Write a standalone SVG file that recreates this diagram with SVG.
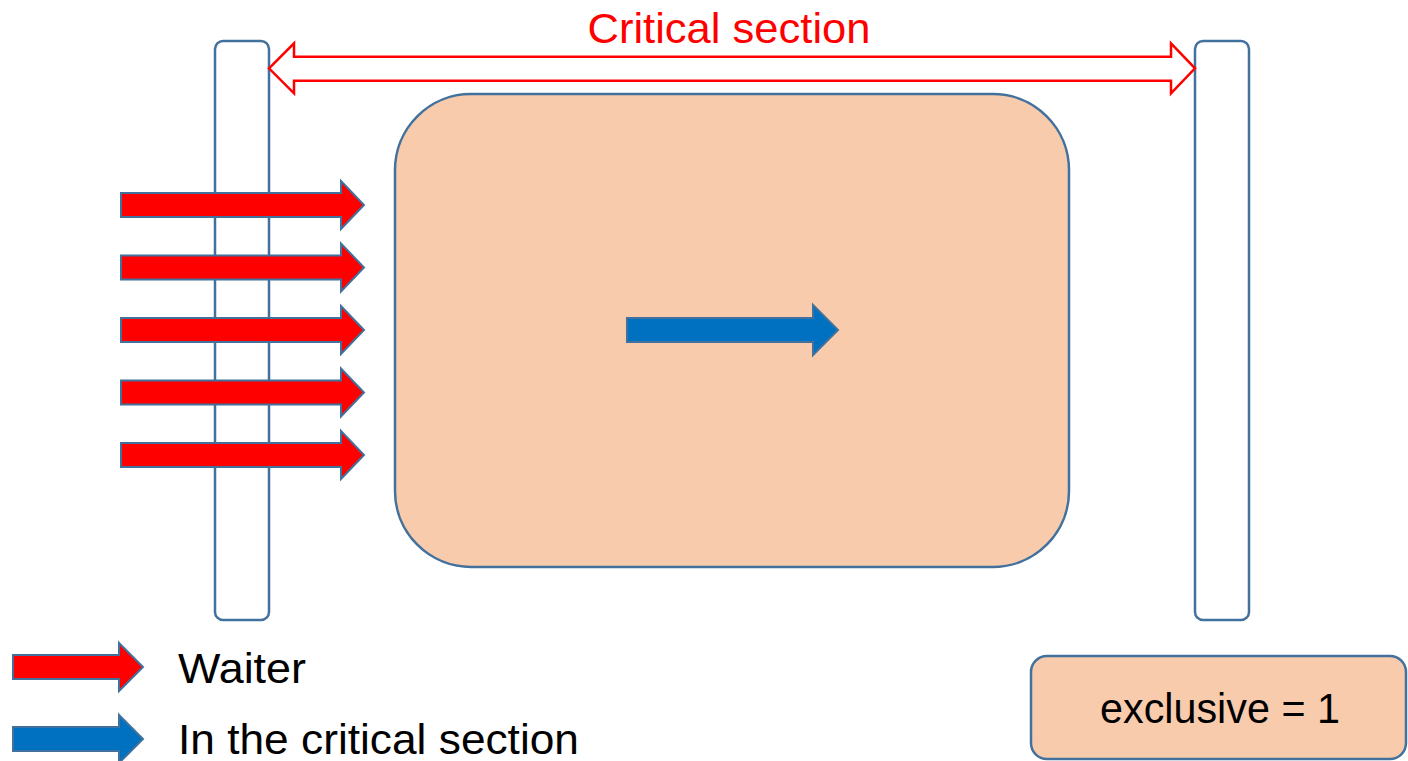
<svg xmlns="http://www.w3.org/2000/svg" width="1408" height="761" viewBox="0 0 1408 761">
<style>
.bar{fill:#fff;stroke:#41719C;stroke-width:2.5}
.box{fill:#F8CBAD;stroke:#41719C;stroke-width:2.5}
.wait{fill:#FF0000;stroke:#41719C;stroke-width:2}
.run{fill:#0070C0;stroke:#41719C;stroke-width:2}
.dbl{fill:#fff;stroke:#FF0000;stroke-width:2.5;stroke-linejoin:miter}
.t{font-family:"Liberation Sans",Arial,sans-serif;font-size:42px;fill:#000}
.red{fill:#FF0000}
</style>
<rect width="1408" height="761" fill="#fff"/>
<g id="left-bar"><rect class="bar" x="215" y="41" width="54" height="579" rx="8"/></g>
<g id="right-bar"><rect class="bar" x="1195" y="41" width="54" height="579" rx="8"/></g>
<g id="critical-box"><rect class="box" x="395" y="94" width="674" height="473" rx="76"/></g>
<g id="connectors">
<path id="span-arrow" class="dbl" d="M269,68.3 L294,43.3 V56.7 H1171 V43.3 L1195,68.3 L1171,93.3 V80.7 H294 V93.3 Z"/>
<path class="wait" d="M121,193 H341 V181 L364,205 L341,229 V217 H121 Z"/>
<path class="wait" d="M121,255.5 H341 V243.5 L364,267.5 L341,291.5 V279.5 H121 Z"/>
<path class="wait" d="M121,318 H341 V306 L364,330 L341,354 V342 H121 Z"/>
<path class="wait" d="M121,380.5 H341 V368.5 L364,392.5 L341,416.5 V404.5 H121 Z"/>
<path class="wait" d="M121,443 H341 V431 L364,455 L341,479 V467 H121 Z"/>
<path class="run" d="M627,318 H813 V305 L838,330 L813,355 V342 H627 Z"/>
</g>
<g id="title"><text class="t red" x="729" y="43" text-anchor="middle" font-size="41" textLength="283" lengthAdjust="spacingAndGlyphs">Critical section</text></g>
<g id="legend-waiter">
<path class="wait" d="M13,655 H119 V643 L143,667 L119,691 V679 H13 Z"/>
<text class="t" x="178" y="683" textLength="128" lengthAdjust="spacingAndGlyphs">Waiter</text>
</g>
<g id="legend-running">
<path class="run" d="M13,727 H119 V715 L143,739 L119,763 V751 H13 Z"/>
<text class="t" x="178" y="754" textLength="401" lengthAdjust="spacingAndGlyphs">In the critical section</text>
</g>
<g id="exclusive">
<rect class="box" x="1031" y="656" width="375" height="103" rx="16"/>
<text class="t" x="1220" y="723" text-anchor="middle" textLength="240" lengthAdjust="spacingAndGlyphs">exclusive = 1</text>
</g>
</svg>
